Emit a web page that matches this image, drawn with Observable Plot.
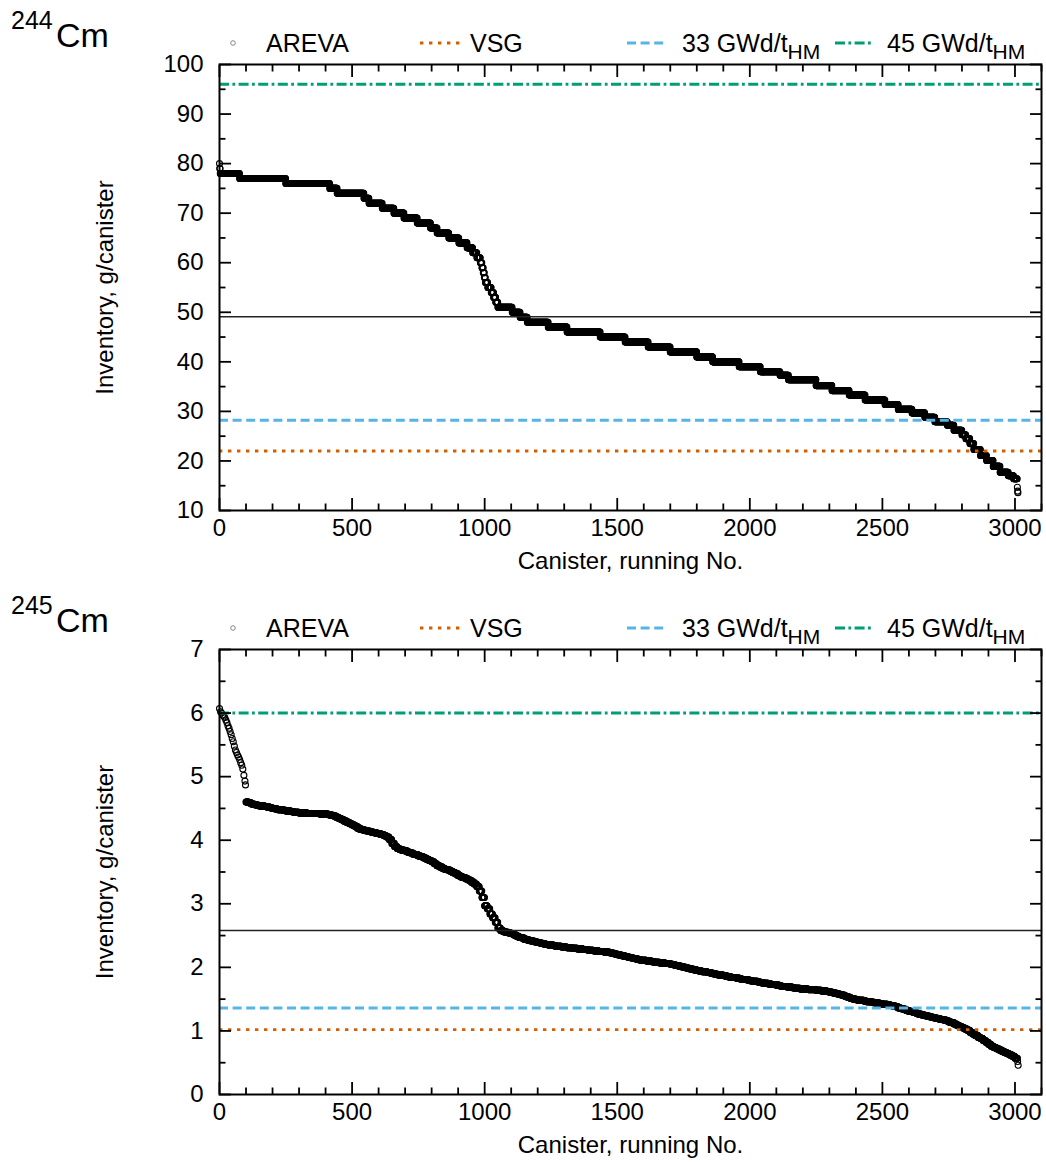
<!DOCTYPE html>
<html><head><meta charset="utf-8">
<script src="https://cdn.jsdelivr.net/npm/d3@7"></script>
<script src="https://cdn.jsdelivr.net/npm/@observablehq/plot@0.6"></script>
<style>
body{margin:0;background:#fff;}
#wrap{position:relative;width:1046px;height:1162px;font-family:"Liberation Sans",Arial,Helvetica,sans-serif;background:#fff;}
.panel{position:absolute;left:0;}
.overlay{position:absolute;left:0;}
</style></head><body><div id="wrap"></div>
<script>
// ---------- DATA ----------
// 244Cm (top): AREVA inventory as runs of equal value: run start canister, run value
const cm244RunStart = [0,1,3,76,250,416,444,545,564,614,658,696,746,796,821,865,903,934,955,971,984,990,995,999,1003,1012,1025,1034,1042,1050,1104,1134,1161,1240,1311,1436,1530,1617,1700,1800,1860,1960,2040,2114,2146,2250,2310,2375,2435,2510,2560,2612,2660,2698,2745,2770,2800,2815,2830,2845,2870,2893,2918,2944,2975,2995,3009,3010,3011];
const cm244RunValue = [80,79,78,77,76,75,74,73,72,71,70,69,68,67,66,65,64,63,62,61,60,59,58,57,56,55,54,53,52,51,50,49,48,47,46,45,44,43,42,41,40,39,38,37.3,36.4,35.2,34.2,33.3,32.3,31.4,30.4,29.7,28.8,27.9,27.2,26.2,25.3,24.5,23.5,22.3,21.1,20.1,18.9,17.7,17.0,16.4,14.7,13.9,13.6];
const cm244LastCanister = 3011;
const cm244Refs = {vsg: 22, gwd33: 28.2, gwd45: 96, mean: 49.1};

// 245Cm (bottom): first canisters (sparse), then 10-canister blocks from canister 100, then tail
const cm245HeadCanister = [0,4,8,12,16,20,24,28,32,36,40,44,48,52,56,60,64,68,72,76,80,84,88,92,96,98];
const cm245HeadValue = [6.07,6.02,6.00,5.97,5.95,5.93,5.89,5.85,5.80,5.76,5.71,5.66,5.60,5.55,5.48,5.42,5.38,5.34,5.31,5.27,5.22,5.18,5.12,5.02,4.93,4.87];
const cm245BlockFirst = 100;
const cm245BlockSize = 10;
const cm245BlockValue = [
4.60,4.59,4.57,4.56,4.55,4.54,4.54,4.53,4.52,4.51,
4.50,4.49,4.48,4.48,4.47,4.46,4.46,4.45,4.44,4.44,
4.43,4.43,4.43,4.42,4.42,4.42,4.42,4.42,4.41,4.41,
4.41,4.40,4.39,4.38,4.36,4.34,4.32,4.30,4.28,4.26,
4.24,4.22,4.19,4.17,4.16,4.15,4.14,4.13,4.12,4.11,
4.10,4.09,4.07,4.05,4.01,3.95,3.90,3.87,3.85,3.84,
3.83,3.81,3.80,3.78,3.77,3.75,3.74,3.72,3.70,3.68,
3.66,3.63,3.60,3.58,3.56,3.54,3.53,3.51,3.49,3.47,
3.44,3.42,3.41,3.39,3.37,3.34,3.31,3.27,3.20,3.10,
2.97,2.92,2.84,2.78,2.71,2.62,2.58,2.56,2.55,2.54,
2.53,2.51,2.49,2.47,2.46,2.44,2.43,2.42,2.41,2.40,
2.39,2.38,2.37,2.36,2.35,2.35,2.34,2.33,2.33,2.32,
2.32,2.31,2.31,2.30,2.30,2.29,2.29,2.28,2.28,2.27,
2.27,2.26,2.26,2.25,2.25,2.24,2.24,2.23,2.22,2.21,
2.20,2.19,2.18,2.17,2.16,2.15,2.14,2.13,2.12,2.11,
2.11,2.10,2.10,2.09,2.08,2.08,2.07,2.07,2.06,2.06,
2.05,2.04,2.03,2.02,2.01,2.00,1.99,1.98,1.97,1.96,
1.95,1.94,1.93,1.93,1.92,1.91,1.90,1.89,1.88,1.88,
1.87,1.86,1.85,1.84,1.84,1.83,1.82,1.81,1.81,1.80,
1.79,1.78,1.78,1.77,1.76,1.75,1.75,1.74,1.73,1.73,
1.72,1.71,1.70,1.70,1.69,1.69,1.68,1.67,1.67,1.66,
1.66,1.66,1.65,1.65,1.65,1.64,1.64,1.63,1.63,1.62,
1.61,1.60,1.59,1.58,1.57,1.56,1.54,1.53,1.51,1.50,
1.49,1.48,1.48,1.47,1.46,1.46,1.45,1.44,1.44,1.43,
1.42,1.42,1.41,1.40,1.39,1.38,1.36,1.35,1.34,1.32,
1.31,1.30,1.29,1.27,1.26,1.25,1.24,1.23,1.22,1.21,
1.20,1.19,1.18,1.17,1.16,1.14,1.13,1.11,1.09,1.07,
1.05,1.03,1.01,0.98,0.95,0.93,0.90,0.88,0.85,0.82,
0.79,0.76,0.74,0.72,0.70,0.68,0.66,0.64,0.62,0.60,
0.57];
const cm245TailCanister = [3010, 3012];
const cm245TailValue = [0.52, 0.46];
const cm245Refs = {vsg: 1.02, gwd33: 1.36, gwd45: 6.0, mean: 2.58};

// axis ticks
const xMajorTicks = [0, 500, 1000, 1500, 2000, 2500, 3000];
const cm244YTicks = [10,20,30,40,50,60,70,80,90,100];
const cm245YTicks = [0,1,2,3,4,5,6,7];

const legendLabels = ["AREVA", "VSG", "33 GWd/t", "45 GWd/t"];
const subscript = "HM";
const xLabel = "Canister, running No.";
const yLabel = "Inventory, g/canister";

// ---------- BUILD POINTS ----------
const cm244Points = [];
cm244RunStart.forEach((s, i) => {
  const e = i + 1 < cm244RunStart.length ? cm244RunStart[i + 1] - 1 : cm244LastCanister;
  for (let c = s; c <= e; c++) cm244Points.push({c, v: cm244RunValue[i]});
});
const cm245Points = [];
cm245HeadCanister.forEach((c, i) => cm245Points.push({c, v: cm245HeadValue[i]}));
cm245BlockValue.forEach((v, i) => {
  for (let j = 0; j < cm245BlockSize; j++) cm245Points.push({c: cm245BlockFirst + i * cm245BlockSize + j, v});
});
cm245TailCanister.forEach((c, i) => cm245Points.push({c, v: cm245TailValue[i]}));

// ---------- STYLE ----------
const COL = {vsg: "#D55E00", gwd33: "#56B4E9", gwd45: "#009E73"};
const DASH = {vsg: "3.4,5.6", gwd33: "9,4.6", gwd45: "10,3.4,2.8,3.4"};
const LW = 2.9;
const FONT = '"Liberation Sans", Arial, Helvetica, sans-serif';

function minorOf(major, step) {
  const out = [];
  for (let i = 0; i < major.length - 1; i++) {
    for (let t = major[i] + step; t < major[i + 1] - 1e-9; t += step) out.push(+t.toFixed(6));
  }
  return out;
}

function panel(points, refs, yDomain, yTicks, yMinorStep, height, plotH) {
  const xMinor = minorOf([...xMajorTicks, 3500], 100).filter(d => d <= 3100);
  const yMinor = minorOf(yTicks, yMinorStep);
  const tickW = 1.8;
  return Plot.plot({
    width: 1046, height,
    marginLeft: 219, marginRight: 5, marginTop: 64, marginBottom: height - 64 - plotH,
    x: {domain: [0, 3100]},
    y: {domain: yDomain},
    style: {fontFamily: FONT, fontSize: "24px", color: "black", background: "white", overflow: "visible"},
    marks: [
      Plot.dot(points, {x: "c", y: "v", r: 3, stroke: "black", strokeWidth: 1.1, fill: "none"}),
      Plot.ruleY([refs.mean], {stroke: "#222", strokeWidth: 1.3}),
      Plot.ruleY([refs.gwd45], {stroke: COL.gwd45, strokeWidth: LW, strokeDasharray: DASH.gwd45}),
      Plot.ruleY([refs.gwd33], {stroke: COL.gwd33, strokeWidth: LW, strokeDasharray: DASH.gwd33}),
      Plot.ruleY([refs.vsg], {stroke: COL.vsg, strokeWidth: LW, strokeDasharray: DASH.vsg}),
      Plot.frame({stroke: "black", strokeWidth: 2}),
      Plot.axisX(xMajorTicks, {anchor: "bottom", tickSize: -12, tickPadding: 20, tickFormat: "d", strokeWidth: tickW,
        label: xLabel, labelAnchor: "center", labelOffset: 58, labelArrow: "none"}),
      Plot.axisX(xMinor, {anchor: "bottom", tickSize: -6.5, strokeWidth: tickW, fill: "none", label: null}),
      Plot.axisX(xMajorTicks, {anchor: "top", tickSize: -12, strokeWidth: tickW, fill: "none", label: null}),
      Plot.axisX(xMinor, {anchor: "top", tickSize: -6.5, strokeWidth: tickW, fill: "none", label: null}),
      Plot.axisY(yTicks, {anchor: "left", tickSize: -12, tickPadding: 28, tickFormat: "d", strokeWidth: tickW,
        label: yLabel, labelAnchor: "center", labelOffset: 124, labelArrow: "none"}),
      Plot.axisY(yMinor, {anchor: "left", tickSize: -6.5, strokeWidth: tickW, fill: "none", label: null}),
      Plot.axisY(yTicks, {anchor: "right", tickSize: -12, strokeWidth: tickW, fill: "none", label: null}),
      Plot.axisY(yMinor, {anchor: "right", tickSize: -6.5, strokeWidth: tickW, fill: "none", label: null})
    ]
  });
}

function overlay(top, massNo) {
  const d = document.createElement("div");
  d.className = "overlay";
  d.style.top = top + "px";
  d.innerHTML = `<svg width="1046" height="70" font-family='${FONT}' fill="black">
    <text x="11" y="29" font-size="25">${massNo}</text>
    <text x="56" y="47" font-size="34">Cm</text>
    <circle cx="233" cy="43" r="2.3" fill="none" stroke="#888" stroke-width="1"/>
    <text x="266" y="52" font-size="25">${legendLabels[0]}</text>
    <line x1="420" x2="460" y1="43" y2="43" stroke="${COL.vsg}" stroke-width="${LW}" stroke-dasharray="${DASH.vsg}"/>
    <text x="470" y="52" font-size="25">${legendLabels[1]}</text>
    <line x1="627" x2="664" y1="43" y2="43" stroke="${COL.gwd33}" stroke-width="${LW}" stroke-dasharray="${DASH.gwd33}"/>
    <text x="682" y="52" font-size="25">${legendLabels[2]}<tspan font-size="21" dy="7">${subscript}</tspan></text>
    <line x1="835" x2="871" y1="43" y2="43" stroke="${COL.gwd45}" stroke-width="${LW}" stroke-dasharray="${DASH.gwd45}"/>
    <text x="887" y="52" font-size="25">${legendLabels[3]}<tspan font-size="21" dy="7">${subscript}</tspan></text>
  </svg>`;
  return d;
}

const wrap = document.getElementById("wrap");
const p1 = panel(cm244Points, cm244Refs, [10, 100], cm244YTicks, 5, 580, 446);
p1.classList.add("panel"); p1.style.top = "0px";
const p2 = panel(cm245Points, cm245Refs, [0, 7], cm245YTicks, 0.5, 577, 445);
p2.classList.add("panel"); p2.style.top = "585px";
wrap.appendChild(p1);
wrap.appendChild(p2);
wrap.appendChild(overlay(0, "244"));
wrap.appendChild(overlay(585, "245"));
</script>
</body></html>
